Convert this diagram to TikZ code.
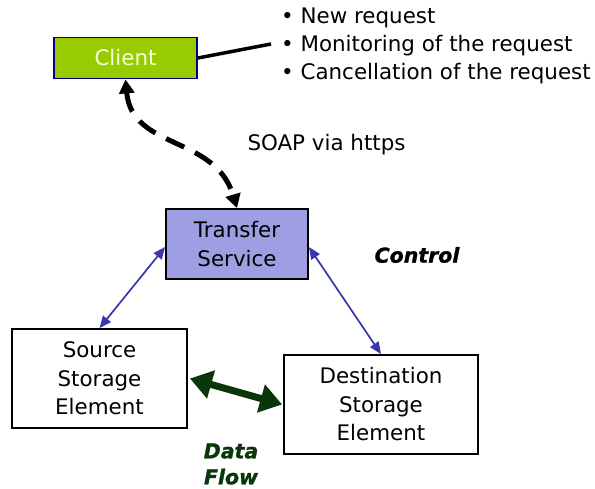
\documentclass[tikz,border=0pt]{standalone}
\usepackage{fontspec}
\setmainfont{DejaVu Sans}
\newfontfamily\heavyfont{DejaVu Sans}[FakeBold=1.2]
\usetikzlibrary{arrows.meta,calc}
\definecolor{clientgreen}{RGB}{153,204,0}
\definecolor{clientborder}{RGB}{0,0,128}
\definecolor{clienttext}{RGB}{240,255,220}
\definecolor{tsfill}{RGB}{158,158,226}
\definecolor{ctrlblue}{RGB}{55,55,175}
\definecolor{flowgreen}{RGB}{10,55,10}
\tikzset{
  txt/.style={font=\fontsize{21.4}{28.5}\selectfont, align=center, inner sep=0pt},
  box/.style={txt, draw=black, line width=1.8pt},
  ctrl/.style={draw=ctrlblue, line width=1.7pt, {Triangle[length=12pt,width=10pt]}-{Triangle[length=12pt,width=10pt]}},
  soap/.style={draw=black, line width=5pt, dash pattern=on 20pt off 12pt, {Triangle[length=14pt,width=15pt]}-{Triangle[length=14pt,width=15pt]}},
  flow/.style={draw=flowgreen, line width=7pt, {Triangle[length=22pt,width=28pt]}-{Triangle[length=22pt,width=28pt]}},
  bullet/.style={font=\fontsize{21.4}{26}\selectfont, anchor=base west, inner sep=0pt},
  heavy/.style={font=\fontsize{20.5}{26}\selectfont\heavyfont\bfseries\itshape, inner sep=0pt, align=center}
}
\begin{document}
\begin{tikzpicture}[x=1pt,y=-1pt]
\useasboundingbox[fill=white] (0,0) rectangle (595,489);
% nodes
\node[box, draw=clientborder, fill=clientgreen, text=clienttext, minimum width=143pt, minimum height=41pt] (client) at (125.5,58) {Client};
\node[box, fill=tsfill, minimum width=142pt, minimum height=70pt] (ts) at (237,244) {Transfer\\Service};
\node[box, fill=white, minimum width=175pt, minimum height=99pt] (src) at (99.5,378.5) {Source\\Storage\\Element};
\node[box, fill=white, minimum width=194pt, minimum height=99pt] (dst) at (381,404.5) {Destination\\Storage\\Element};
% bullet list
\node[bullet] (b1) at (281,24) {• New request};
\node[bullet] (b2) at (281,52) {• Monitoring of the request};
\node[bullet] (b3) at (281,80) {• Cancellation of the request};
\coordinate (listpt) at (271,44);
% labels
\node[txt] (soaplbl) at (326.5,145) {SOAP via https};
\node[heavy, text=black] (ctrllbl) at (417,255) {Control};
\node[heavy, text=flowgreen] (flowlbl) at (231,464) {Data\\Flow};
% connectors
\draw[line width=3.5pt] (client.east) -- (listpt);
\draw[soap] (client.south) .. controls (132,150) and (215,135) .. (ts.north);
\draw[ctrl] ([yshift=-3pt]ts.west) -- (src.north);
\draw[ctrl] ([yshift=-3pt]ts.east) -- (dst.north);
\draw[flow] ([xshift=2pt]src.east) -- ([xshift=-1pt]dst.west);
\end{tikzpicture}
\end{document}
